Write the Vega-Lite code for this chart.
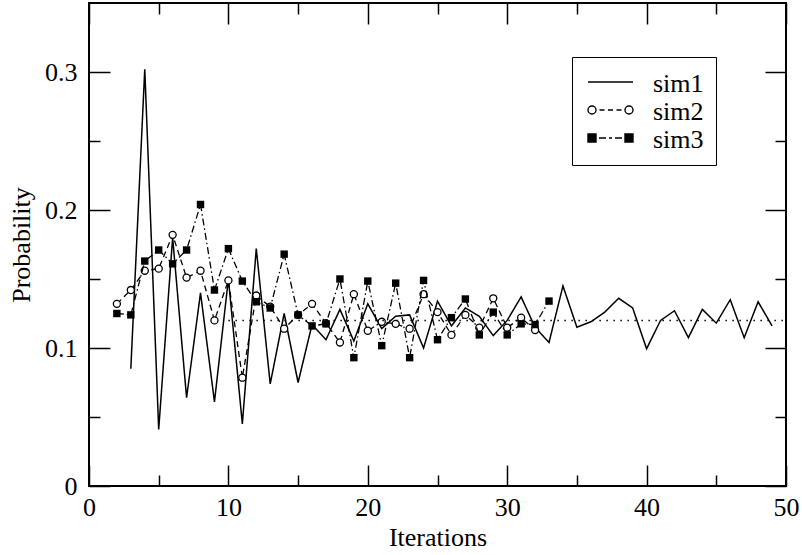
{
  "$schema": "https://vega.github.io/schema/vega-lite/v6.json",
  "autosize": {"type": "none"},
  "padding": {"left": 89, "top": 3, "right": 16, "bottom": 69},
  "width": 697,
  "height": 483,
  "background": "white",
  "config": {
    "font": "Liberation Serif",
    "view": {"stroke": "black", "strokeWidth": 2},
    "axis": {
      "labelFont": "Liberation Serif", "titleFont": "Liberation Serif",
      "labelFontSize": 26, "titleFontSize": 26, "titleFontWeight": "normal",
      "labelColor": "black", "titleColor": "black", "tickColor": "black",
      "tickWidth": 1.5, "domain": false, "grid": false,
      "labelFlush": false, "labelOverlap": false, "labelBound": false
    },
    "legend": {"labelFont": "Liberation Serif", "labelFontSize": 26, "labelColor": "black"}
  },
  "datasets": {
    "sims": [
      {"series": "sim1", "iter": 3, "p": 0.085}, {"series": "sim1", "iter": 4, "p": 0.302},
      {"series": "sim1", "iter": 5, "p": 0.041}, {"series": "sim1", "iter": 6, "p": 0.18},
      {"series": "sim1", "iter": 7, "p": 0.064}, {"series": "sim1", "iter": 8, "p": 0.14},
      {"series": "sim1", "iter": 9, "p": 0.061}, {"series": "sim1", "iter": 10, "p": 0.15},
      {"series": "sim1", "iter": 11, "p": 0.045}, {"series": "sim1", "iter": 12, "p": 0.172},
      {"series": "sim1", "iter": 13, "p": 0.074}, {"series": "sim1", "iter": 14, "p": 0.125},
      {"series": "sim1", "iter": 15, "p": 0.075}, {"series": "sim1", "iter": 16, "p": 0.117},
      {"series": "sim1", "iter": 17, "p": 0.106}, {"series": "sim1", "iter": 18, "p": 0.128},
      {"series": "sim1", "iter": 19, "p": 0.105}, {"series": "sim1", "iter": 20, "p": 0.132},
      {"series": "sim1", "iter": 21, "p": 0.114}, {"series": "sim1", "iter": 22, "p": 0.123},
      {"series": "sim1", "iter": 23, "p": 0.124}, {"series": "sim1", "iter": 24, "p": 0.1},
      {"series": "sim1", "iter": 25, "p": 0.134}, {"series": "sim1", "iter": 26, "p": 0.116},
      {"series": "sim1", "iter": 27, "p": 0.129}, {"series": "sim1", "iter": 28, "p": 0.123},
      {"series": "sim1", "iter": 29, "p": 0.109}, {"series": "sim1", "iter": 30, "p": 0.12},
      {"series": "sim1", "iter": 31, "p": 0.137}, {"series": "sim1", "iter": 32, "p": 0.115},
      {"series": "sim1", "iter": 33, "p": 0.104}, {"series": "sim1", "iter": 34, "p": 0.145},
      {"series": "sim1", "iter": 35, "p": 0.115}, {"series": "sim1", "iter": 36, "p": 0.119},
      {"series": "sim1", "iter": 37, "p": 0.126}, {"series": "sim1", "iter": 38, "p": 0.136},
      {"series": "sim1", "iter": 39, "p": 0.129}, {"series": "sim1", "iter": 40, "p": 0.0995},
      {"series": "sim1", "iter": 41, "p": 0.12}, {"series": "sim1", "iter": 42, "p": 0.127},
      {"series": "sim1", "iter": 43, "p": 0.1075}, {"series": "sim1", "iter": 44, "p": 0.128},
      {"series": "sim1", "iter": 45, "p": 0.118}, {"series": "sim1", "iter": 46, "p": 0.135},
      {"series": "sim1", "iter": 47, "p": 0.1075}, {"series": "sim1", "iter": 48, "p": 0.1335},
      {"series": "sim1", "iter": 49, "p": 0.116},
      {"series": "sim2", "iter": 2, "p": 0.132}, {"series": "sim2", "iter": 3, "p": 0.142},
      {"series": "sim2", "iter": 4, "p": 0.156}, {"series": "sim2", "iter": 5, "p": 0.1575},
      {"series": "sim2", "iter": 6, "p": 0.182}, {"series": "sim2", "iter": 7, "p": 0.151},
      {"series": "sim2", "iter": 8, "p": 0.156}, {"series": "sim2", "iter": 9, "p": 0.12},
      {"series": "sim2", "iter": 10, "p": 0.149}, {"series": "sim2", "iter": 11, "p": 0.0785},
      {"series": "sim2", "iter": 12, "p": 0.138}, {"series": "sim2", "iter": 13, "p": 0.13},
      {"series": "sim2", "iter": 14, "p": 0.114}, {"series": "sim2", "iter": 15, "p": 0.124},
      {"series": "sim2", "iter": 16, "p": 0.132}, {"series": "sim2", "iter": 17, "p": 0.118},
      {"series": "sim2", "iter": 18, "p": 0.104}, {"series": "sim2", "iter": 19, "p": 0.139},
      {"series": "sim2", "iter": 20, "p": 0.1125}, {"series": "sim2", "iter": 21, "p": 0.119},
      {"series": "sim2", "iter": 22, "p": 0.1175}, {"series": "sim2", "iter": 23, "p": 0.114},
      {"series": "sim2", "iter": 24, "p": 0.139}, {"series": "sim2", "iter": 25, "p": 0.126},
      {"series": "sim2", "iter": 26, "p": 0.1095}, {"series": "sim2", "iter": 27, "p": 0.124},
      {"series": "sim2", "iter": 28, "p": 0.1147}, {"series": "sim2", "iter": 29, "p": 0.136},
      {"series": "sim2", "iter": 30, "p": 0.1147}, {"series": "sim2", "iter": 31, "p": 0.122},
      {"series": "sim2", "iter": 32, "p": 0.113},
      {"series": "sim3", "iter": 2, "p": 0.125}, {"series": "sim3", "iter": 3, "p": 0.124},
      {"series": "sim3", "iter": 4, "p": 0.163}, {"series": "sim3", "iter": 5, "p": 0.171},
      {"series": "sim3", "iter": 6, "p": 0.161}, {"series": "sim3", "iter": 7, "p": 0.171},
      {"series": "sim3", "iter": 8, "p": 0.204}, {"series": "sim3", "iter": 9, "p": 0.142},
      {"series": "sim3", "iter": 10, "p": 0.172}, {"series": "sim3", "iter": 11, "p": 0.1485},
      {"series": "sim3", "iter": 12, "p": 0.1335}, {"series": "sim3", "iter": 13, "p": 0.129},
      {"series": "sim3", "iter": 14, "p": 0.168}, {"series": "sim3", "iter": 15, "p": 0.124},
      {"series": "sim3", "iter": 16, "p": 0.116}, {"series": "sim3", "iter": 17, "p": 0.1175},
      {"series": "sim3", "iter": 18, "p": 0.15}, {"series": "sim3", "iter": 19, "p": 0.093},
      {"series": "sim3", "iter": 20, "p": 0.1485}, {"series": "sim3", "iter": 21, "p": 0.1017},
      {"series": "sim3", "iter": 22, "p": 0.147}, {"series": "sim3", "iter": 23, "p": 0.093},
      {"series": "sim3", "iter": 24, "p": 0.149}, {"series": "sim3", "iter": 25, "p": 0.106},
      {"series": "sim3", "iter": 26, "p": 0.122}, {"series": "sim3", "iter": 27, "p": 0.1355},
      {"series": "sim3", "iter": 28, "p": 0.1095}, {"series": "sim3", "iter": 29, "p": 0.126},
      {"series": "sim3", "iter": 30, "p": 0.1095}, {"series": "sim3", "iter": 31, "p": 0.1175},
      {"series": "sim3", "iter": 32, "p": 0.117}, {"series": "sim3", "iter": 33, "p": 0.134}
    ],
    "ref": [{"iter": 10, "p": 0.12}, {"iter": 50, "p": 0.12}]
  },
  "data": {"name": "sims"},
  "resolve": {"axis": {"x": "independent", "y": "independent"}},
  "layer": [
    {
      "transform": [{"filter": "datum.series === 'sim1'"}],
      "mark": {"type": "line", "color": "black", "strokeWidth": 1.5},
      "encoding": {
        "x": {"field": "iter", "type": "quantitative", "scale": {"domain": [0, 50], "nice": false},
          "axis": {"orient": "bottom", "values": [0, 10, 20, 30, 40, 50], "tickSize": -21, "labelPadding": 29, "format": "d", "title": "Iterations", "titlePadding": 4, "labelFont": "Liberation Serif", "titleFont": "Liberation Serif"}},
        "y": {"field": "p", "type": "quantitative", "scale": {"domain": [0, 0.35], "nice": false, "zero": true},
          "axis": {"orient": "left", "values": [0, 0.1, 0.2, 0.3], "tickSize": -21, "labelPadding": 33, "labelExpr": "datum.value == 0 ? '0' : format(datum.value, '.1f')", "title": "Probability", "titlePadding": 10, "labelFont": "Liberation Serif", "titleFont": "Liberation Serif"}}
      }
    },
    {
      "transform": [{"filter": "datum.series === 'sim2'"}],
      "mark": {"type": "line", "color": "black", "strokeWidth": 1.3, "strokeDash": [6, 4]},
      "encoding": {
        "x": {"field": "iter", "type": "quantitative",
          "axis": {"orient": "bottom", "values": [5, 15, 25, 35, 45], "tickSize": -11, "labels": false, "title": null}},
        "y": {"field": "p", "type": "quantitative",
          "axis": {"orient": "left", "values": [0.05, 0.15, 0.25], "tickSize": -11, "labels": false, "title": null}}
      }
    },
    {
      "transform": [{"filter": "datum.series === 'sim2'"}],
      "mark": {"type": "point", "shape": "circle", "size": 50, "filled": true, "fill": "white", "stroke": "black", "strokeWidth": 1.3, "opacity": 1},
      "encoding": {
        "x": {"field": "iter", "type": "quantitative",
          "axis": {"orient": "top", "values": [0, 10, 20, 30, 40, 50], "tickSize": -21, "labels": false, "title": null}},
        "y": {"field": "p", "type": "quantitative",
          "axis": {"orient": "right", "values": [0, 0.1, 0.2, 0.3], "tickSize": -21, "labels": false, "title": null}}
      }
    },
    {
      "transform": [{"filter": "datum.series === 'sim3'"}],
      "mark": {"type": "line", "color": "black", "strokeWidth": 1.3, "strokeDash": [7, 3, 1.5, 3]},
      "encoding": {
        "x": {"field": "iter", "type": "quantitative",
          "axis": {"orient": "top", "values": [5, 15, 25, 35, 45], "tickSize": -11, "labels": false, "title": null}},
        "y": {"field": "p", "type": "quantitative",
          "axis": {"orient": "right", "values": [0.05, 0.15, 0.25], "tickSize": -11, "labels": false, "title": null}}
      }
    },
    {
      "transform": [{"filter": "datum.series === 'sim3'"}],
      "mark": {"type": "point", "shape": "square", "size": 55, "filled": true, "fill": "black", "strokeWidth": 0, "opacity": 1},
      "encoding": {
        "x": {"field": "iter", "type": "quantitative", "axis": null},
        "y": {"field": "p", "type": "quantitative", "axis": null}
      }
    },
    {
      "data": {"name": "ref"},
      "mark": {"type": "line", "color": "black", "strokeWidth": 1.5, "strokeDash": [1.5, 5.5]},
      "encoding": {
        "x": {"field": "iter", "type": "quantitative", "axis": null},
        "y": {"field": "p", "type": "quantitative", "axis": null}
      }
    },
    {
      "mark": {"type": "point", "opacity": 0, "filled": true, "strokeWidth": 1.4},
      "encoding": {
        "x": {"field": "iter", "type": "quantitative", "axis": null},
        "y": {"field": "p", "type": "quantitative", "axis": null},
        "shape": {"field": "series", "type": "nominal",
          "scale": {"domain": ["sim1", "sim2", "sim3"], "range": [
            "M-0.9,0L3.6,0",
            "M-0.9,0A0.4,0.4,0,1,1,-0.1,0A0.4,0.4,0,1,1,-0.9,0ZM2.8,0A0.4,0.4,0,1,1,3.6,0A0.4,0.4,0,1,1,2.8,0ZM0.25,0L0.75,0M1.1,0L1.6,0M1.95,0L2.45,0",
            "M-0.9,-0.4L-0.1,-0.4L-0.1,0.4L-0.9,0.4ZM2.8,-0.4L3.6,-0.4L3.6,0.4L2.8,0.4ZM0.2,0L0.9,0M1.2,0L1.5,0M1.8,0L2.5,0"
          ]},
          "legend": {"title": null, "orient": "none", "legendX": 483, "legendY": 54, "strokeColor": "black", "padding": 12, "symbolSize": 400, "symbolStrokeColor": "black", "symbolStrokeWidth": 1.4, "symbolOpacity": 1, "rowPadding": 0, "labelOffset": 43, "labelFontSize": 26, "labelFont": "Liberation Serif",
            "encode": {"symbols": {"update": {"stroke": {"value": "black"}, "strokeWidth": {"value": 1.4}, "opacity": {"value": 1}, "strokeOpacity": {"value": 1}}}, "labels": {"update": {"font": {"value": "Liberation Serif"}, "dy": {"value": 2}}}}}},
        "fill": {"field": "series", "type": "nominal",
          "scale": {"domain": ["sim1", "sim2", "sim3"], "range": ["white", "white", "black"]},
          "legend": {"title": null, "orient": "none", "legendX": 483, "legendY": 54, "strokeColor": "black", "padding": 12, "symbolSize": 400, "symbolStrokeColor": "black", "symbolStrokeWidth": 1.4, "symbolOpacity": 1, "rowPadding": 0, "labelOffset": 43, "labelFontSize": 26, "labelFont": "Liberation Serif",
            "encode": {"symbols": {"update": {"stroke": {"value": "black"}, "strokeWidth": {"value": 1.4}, "opacity": {"value": 1}, "strokeOpacity": {"value": 1}}}, "labels": {"update": {"font": {"value": "Liberation Serif"}, "dy": {"value": 2}}}}}}
      }
    }
  ]
}
